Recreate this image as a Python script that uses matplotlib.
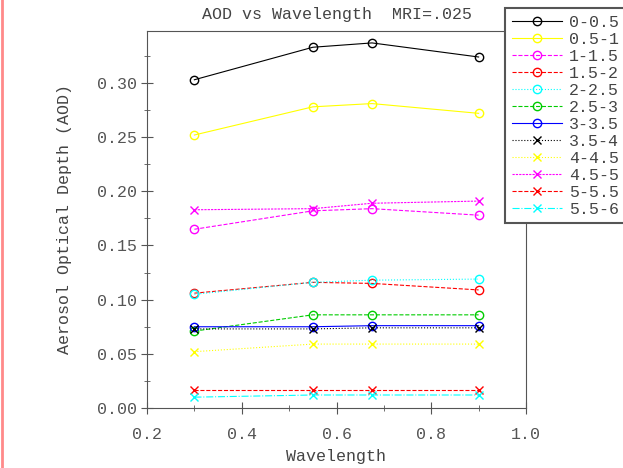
import matplotlib
matplotlib.use('Agg')
import matplotlib.pyplot as plt
from matplotlib.lines import Line2D
from matplotlib.ticker import MultipleLocator

plt.rcParams['font.family'] = ['Liberation Mono', 'DejaVu Sans Mono']

wavelength = [0.3, 0.55, 0.675, 0.9]

labels = ['0-0.5', '0.5-1', '1-1.5', '1.5-2', '2-2.5', '2.5-3',
          '3-3.5', '3.5-4', '4-4.5', '4.5-5', '5-5.5', '5.5-6']

aod = [
    [0.303, 0.333, 0.337, 0.324],
    [0.252, 0.278, 0.281, 0.272],
    [0.165, 0.182, 0.184, 0.178],
    [0.106, 0.116, 0.115, 0.109],
    [0.105, 0.116, 0.118, 0.119],
    [0.071, 0.086, 0.086, 0.086],
    [0.075, 0.075, 0.076, 0.076],
    [0.073, 0.073, 0.074, 0.074],
    [0.052, 0.059, 0.059, 0.059],
    [0.183, 0.184, 0.189, 0.191],
    [0.017, 0.017, 0.017, 0.017],
    [0.010, 0.012, 0.012, 0.012],
]

colors = ['black', '#ffff00', '#ff00ff', '#ff0000', '#00ffff', '#00cc00',
          '#0000ff', 'black', '#ffff00', '#ff00ff', '#ff0000', '#00ffff']
styles = ['-', '-', '--', '--', ':', '--', '-', ':', ':', (0, (2, 1)), '--', '-.']
markers = ['o', 'o', 'o', 'o', 'o', 'o', 'o', 'x', 'x', 'x', 'x', 'x']

fig = plt.figure(figsize=(6.23, 4.68), dpi=100)
ax = fig.add_axes([147 / 623, 60 / 468, 379 / 623, 377 / 468])

for vals, lab, c, ls, m in zip(aod, labels, colors, styles, markers):
    ax.plot(wavelength, vals, color=c, linestyle=ls, linewidth=0.8,
            marker=m, markersize=6, markerfacecolor='none', markeredgecolor=c,
            label=lab)

ax.set_xlim(0.2, 1.0)
ax.set_ylim(0, 0.348)
ax.xaxis.set_major_locator(MultipleLocator(0.2))
ax.xaxis.set_minor_locator(MultipleLocator(0.1))
ax.yaxis.set_major_locator(MultipleLocator(0.05))
ax.yaxis.set_minor_locator(MultipleLocator(0.025))
ax.tick_params(which='both', direction='inout', colors='#555555', labelcolor='#555555',
               labelsize=12)
ax.tick_params(which='major', length=8)
ax.tick_params(which='minor', length=4)
ax.tick_params(axis='x', pad=10)
ax.yaxis.set_major_formatter(plt.FormatStrFormatter('%.2f'))
ax.xaxis.set_major_formatter(plt.FormatStrFormatter('%.1f'))
for s in ax.spines.values():
    s.set_color('#555555')

ax.set_title('AOD vs Wavelength  MRI=.025', fontsize=12, color='#444444', pad=9)
ax.set_xlabel('Wavelength', fontsize=12, color='#444444', labelpad=5)
ax.set_ylabel('Aerosol Optical Depth (AOD)', fontsize=12, color='#444444', labelpad=18)

leg = fig.legend(loc='upper left', bbox_to_anchor=(505 / 623, 1 - 8 / 468),
                 bbox_transform=fig.transFigure, fontsize=12, labelspacing=0.12,
                 handlelength=3.0, handletextpad=0.45, borderpad=0.4, borderaxespad=0,
                 fancybox=False, framealpha=1, edgecolor='#555555', labelcolor='#444444')
leg.get_frame().set_linewidth(1.5)

# pink border line at the left edge of the picture
fig.add_artist(Line2D([0.004, 0.004], [0, 1], color='#ff8a8a', linewidth=2))

fig.savefig('out.png', dpi=100)
